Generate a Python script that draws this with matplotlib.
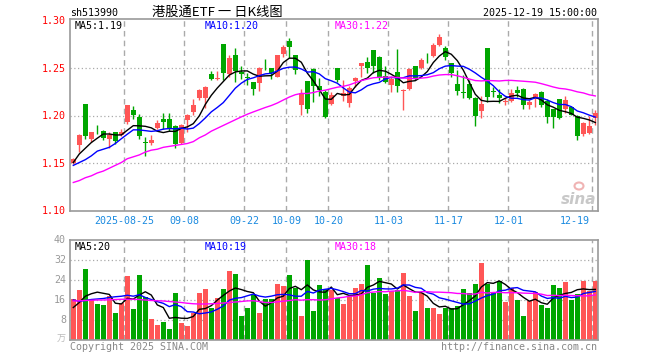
import matplotlib
matplotlib.use("Agg")
import matplotlib.pyplot as plt
from matplotlib.patches import Ellipse
import numpy as np
import pandas as pd

# daily bars, 2025-08-12 .. 2025-12-19
opens = [1.151, 1.169, 1.213, 1.176, 1.1865, 1.184, 1.176, 1.183, 1.180, 1.194,
         1.206, 1.199, 1.172, 1.1715, 1.1875, 1.197, 1.197, 1.189, 1.1715, 1.196,
         1.204, 1.219, 1.219, 1.2445, 1.2385, 1.2755, 1.244, 1.264, 1.2465, 1.241,
         1.236, 1.2345, 1.2495, 1.250, 1.2415, 1.265, 1.279, 1.264, 1.211, 1.2365,
         1.249, 1.232, 1.225, 1.213, 1.250, 1.2215, 1.214, 1.2365, 1.2525, 1.257,
         1.2695, 1.262, 1.2425, 1.233, 1.2465, 1.226, 1.2285, 1.253, 1.250, 1.260,
         1.263, 1.2745, 1.271, 1.2555, 1.234, 1.2255, 1.234, 1.219, 1.205, 1.2715,
         1.2265, 1.2225, 1.215, 1.2155, 1.227, 1.2285, 1.211, 1.218, 1.2255, 1.2155,
         1.207, 1.2175, 1.207, 1.2095, 1.200, 1.181, 1.182, 1.198]
highs = [1.156, 1.181, 1.213, 1.183, 1.190, 1.185, 1.183, 1.183, 1.186, 1.211,
         1.210, 1.202, 1.178, 1.180, 1.196, 1.203, 1.203, 1.190, 1.192, 1.202,
         1.218, 1.228, 1.231, 1.247, 1.247, 1.2755, 1.264, 1.271, 1.253, 1.245,
         1.236, 1.252, 1.260, 1.250, 1.264, 1.2745, 1.282, 1.264, 1.2285, 1.2365,
         1.250, 1.240, 1.227, 1.2255, 1.250, 1.238, 1.231, 1.2415, 1.2555, 1.2625,
         1.2695, 1.263, 1.253, 1.2415, 1.2705, 1.2285, 1.250, 1.253, 1.261, 1.266,
         1.2765, 1.286, 1.2735, 1.2555, 1.2485, 1.2435, 1.238, 1.220, 1.221, 1.2715,
         1.2305, 1.228, 1.219, 1.228, 1.231, 1.229, 1.2165, 1.2245, 1.2265, 1.2175,
         1.207, 1.218, 1.221, 1.2105, 1.2005, 1.194, 1.200, 1.2065]
lows = [1.149, 1.1625, 1.176, 1.173, 1.181, 1.175, 1.166, 1.170, 1.179, 1.192,
        1.197, 1.176, 1.158, 1.169, 1.186, 1.186, 1.184, 1.166, 1.170, 1.183,
        1.2015, 1.217, 1.208, 1.2375, 1.2375, 1.238, 1.2415, 1.2355, 1.239, 1.233,
        1.2225, 1.226, 1.248, 1.239, 1.241, 1.2625, 1.261, 1.2445, 1.2005, 1.2035,
        1.2145, 1.221, 1.198, 1.212, 1.236, 1.2155, 1.2095, 1.2305, 1.2415, 1.245,
        1.245, 1.238, 1.2345, 1.2255, 1.2255, 1.206, 1.227, 1.238, 1.249, 1.2555,
        1.2625, 1.2735, 1.259, 1.2415, 1.2225, 1.219, 1.2175, 1.1895, 1.198, 1.2145,
        1.220, 1.214, 1.212, 1.2145, 1.220, 1.207, 1.2075, 1.2095, 1.2095, 1.1925,
        1.1875, 1.197, 1.203, 1.2005, 1.175, 1.179, 1.181, 1.191]
closes = [1.155, 1.180, 1.179, 1.183, 1.186, 1.177, 1.180, 1.174, 1.183, 1.211,
          1.201, 1.179, 1.1715, 1.175, 1.193, 1.194, 1.186, 1.1705, 1.191, 1.201,
          1.211, 1.227, 1.2305, 1.239, 1.2395, 1.245, 1.261, 1.247, 1.244, 1.240,
          1.228, 1.250, 1.249, 1.245, 1.264, 1.273, 1.273, 1.2485, 1.224, 1.207,
          1.232, 1.227, 1.199, 1.2225, 1.238, 1.224, 1.2295, 1.240, 1.2555, 1.250,
          1.253, 1.2415, 1.2355, 1.239, 1.2315, 1.227, 1.249, 1.239, 1.259, 1.2595,
          1.2745, 1.283, 1.2625, 1.245, 1.226, 1.2245, 1.219, 1.1995, 1.213, 1.220,
          1.2255, 1.2185, 1.216, 1.2245, 1.2245, 1.211, 1.2145, 1.2235, 1.211, 1.1985,
          1.1985, 1.198, 1.2165, 1.2015, 1.179, 1.1925, 1.1895, 1.203]
volumes = [16.3, 20, 28.4, 16.5, 14.5, 14, 17.8, 10.8, 15, 25.8,
           12.4, 26, 17.3, 8.4, 6, 7.2, 4.6, 18.9, 6.9, 5.6,
           11, 19, 20.4, 12.7, 16.7, 20.4, 27.7, 26.5, 9.6, 12.8,
           18, 10.9, 16.4, 16.4, 22.4, 21.6, 26, 21, 9.6, 32,
           11.6, 22, 20.3, 20, 16.7, 14.4, 17.6, 21, 22.4, 30,
           18.9, 25, 18.4, 19.7, 20, 27, 17.6, 11.6, 18.7, 12.7,
           12.7, 10.4, 13, 13, 13.6, 20.4, 18.7, 22.4, 30.9, 22.4,
           18.9, 23.6, 15.3, 21, 16, 9.6, 15.7, 19.3, 14, 12.9,
           22, 21, 23.2, 16, 18.4, 23.6, 19.6, 23.6]

# moving averages at the left edge (they use days before the window)
ma5_head = [1.151, 1.160, 1.166, 1.172]
ma10_head = [1.148, 1.151, 1.154, 1.158, 1.163, 1.165, 1.167, 1.171, 1.176]
ma30_head = [1.130, 1.132, 1.135, 1.137, 1.140, 1.142, 1.145, 1.148, 1.151, 1.155,
             1.157, 1.159, 1.162, 1.164, 1.165, 1.167, 1.168, 1.169, 1.170, 1.171,
             1.173, 1.177, 1.180, 1.184, 1.187, 1.190, 1.193, 1.196, 1.199]
vma5_head = [13, 15, 17.5, 18.5]
vma10_head = [16, 15.5, 15.8, 16.2, 16.4, 16.6, 17, 17.3, 17.5]
vma30_head = [15.6, 15.7, 15.8, 15.9, 16.0, 16.0, 16.1, 16.2, 16.3, 16.3,
              16.3, 16.2, 16.0, 15.8, 15.7, 15.6, 15.4, 15.2, 15.0, 14.7,
              14.5, 14.4, 14.4, 14.5, 14.6, 14.8, 15.0, 15.2, 15.4]

date_idx = [9, 19, 29, 36, 43, 53, 63, 73, 87]
date_lbl = ["2025-08-25", "09-08", "09-22", "10-09", "10-20", "11-03", "11-17", "12-01", "12-19"]
price_ticks = [1.10, 1.15, 1.20, 1.25, 1.30]
vol_ticks = [8, 16, 24, 32, 40]

UP = "#ff5656"
DOWN = "#00a600"
GRID = "#aaaaaa"
MONO = "DejaVu Sans Mono"


def moving(vals, n, head):
    m = pd.Series(vals).rolling(n).mean().to_numpy()
    m[:len(head)] = head
    return m


O, H, L, C = map(np.array, (opens, highs, lows, closes))
V = np.array(volumes)
x = np.arange(len(C))
col = np.where(C >= O, UP, DOWN)

W, Hpx = 660, 360
fig = plt.figure(figsize=(W / 100, Hpx / 100), dpi=100)
left, right = 70.3, 597.7
ax = fig.add_axes([left / W, 1 - 211 / Hpx, (right - left) / W, 192 / Hpx])
axv = fig.add_axes([left / W, 1 - 340 / Hpx, (right - left) / W, 100 / Hpx])


def fx(px):
    return px / W


def fy(py):
    return 1 - py / Hpx


for a in (ax, axv):
    a.set_xlim(-0.5, 87.4)
    a.set_xticks([])
    a.set_yticks([])
    for s in a.spines.values():
        s.set_color("#9a9a9a")
        s.set_linewidth(1.2)
    for d in date_idx:
        a.axvline(d - 0.5, color=GRID, ls=(0, (4, 3)), lw=1, zorder=0)

# price panel
ax.set_ylim(1.10, 1.302)
for y in price_ticks[1:-1]:
    ax.axhline(y, color=GRID, ls=(0, (1, 2)), lw=0.9, zorder=0)
ax.vlines(x, L, H, color=col, lw=1, zorder=2)
ax.bar(x, np.maximum(np.abs(C - O), 0.0007), bottom=np.minimum(O, C),
       width=0.8, color=col, zorder=3)
ax.plot(x, moving(closes, 5, ma5_head), color="black", lw=1, zorder=4)
ax.plot(x, moving(closes, 10, ma10_head), color="#0000ff", lw=1, zorder=4)
ax.plot(x, moving(closes, 30, ma30_head), color="#ff00ff", lw=1, zorder=4)

# volume panel
axv.set_ylim(0, 40)
for y in vol_ticks[:-1]:
    axv.axhline(y, color=GRID, ls=(0, (1, 2)), lw=0.9, zorder=0)
axv.bar(x, V, width=0.8, color=col, zorder=2)
axv.plot(x, moving(volumes, 5, vma5_head), color="black", lw=1, zorder=4)
axv.plot(x, moving(volumes, 10, vma10_head), color="#0000ff", lw=1, zorder=4)
axv.plot(x, moving(volumes, 30, vma30_head), color="#ff00ff", lw=1, zorder=4)

# labels
fs = 7.2
for p in price_ticks:
    py = 211 - (p - 1.10) / 0.05 * 47.5
    fig.text(fx(66), fy(py), "%.2f" % p, color="#ff0000", family=MONO,
             fontsize=fs, ha="right", va="center")
for v in vol_ticks:
    py = 340 - v * 2.5
    fig.text(fx(66), fy(py), str(v), color="#999999", family=MONO,
             fontsize=fs, ha="right", va="center")
fig.text(fx(66), fy(339), "万", color="#bbbbbb", fontsize=6.5, ha="right", va="center",
         family=["Noto Sans CJK SC", "DejaVu Sans"])

for d, t in zip(date_idx, date_lbl):
    px = 73.3 + 6 * d - 3
    ha = "center"
    if d == date_idx[-1]:
        px, ha = 590, "right"
    fig.text(fx(px), fy(220.5), t, color="#1a8ae0", family=MONO, fontsize=fs,
             ha=ha, va="center")

fig.text(fx(70), fy(13), "sh513990", color="black", family=MONO, fontsize=fs, va="center")
fig.text(fx(217), fy(12), "港股通ETF 一 日K线图", color="black", fontsize=9.5,
         family=["Noto Sans CJK SC", "DejaVu Sans"], ha="center", va="center")
fig.text(fx(597), fy(13), "2025-12-19 15:00:00", color="black", family=MONO,
         fontsize=fs, ha="right", va="center")

fig.text(fx(75), fy(26), "MA5:1.19", color="black", family=MONO, fontsize=fs, va="center")
fig.text(fx(205), fy(26), "MA10:1.20", color="#0000ff", family=MONO, fontsize=fs, va="center")
fig.text(fx(335), fy(26), "MA30:1.22", color="#ff00ff", family=MONO, fontsize=fs, va="center")
fig.text(fx(75), fy(246.5), "MA5:20", color="black", family=MONO, fontsize=fs, va="center")
fig.text(fx(205), fy(246.5), "MA10:19", color="#0000ff", family=MONO, fontsize=fs, va="center")
fig.text(fx(335), fy(246.5), "MA30:18", color="#ff00ff", family=MONO, fontsize=fs, va="center")

fig.text(fx(70), fy(347), "Copyright 2025 SINA.COM", color="#888888", family=MONO,
         fontsize=fs, va="center")
fig.text(fx(597), fy(347), "http://finance.sina.com.cn", color="#888888", family=MONO,
         fontsize=fs, ha="right", va="center")

# faint sina mark
fig.text(fx(596), fy(199), "sina", color="#c8c8c8", fontsize=11, style="italic",
         weight="bold", ha="right", va="center")
fig.patches.append(Ellipse((fx(579), fy(186)), 9 / W, 7 / Hpx, transform=fig.transFigure,
                           fill=False, edgecolor="#f0b4b4", lw=1.5))

fig.savefig("out.png", dpi=100)
